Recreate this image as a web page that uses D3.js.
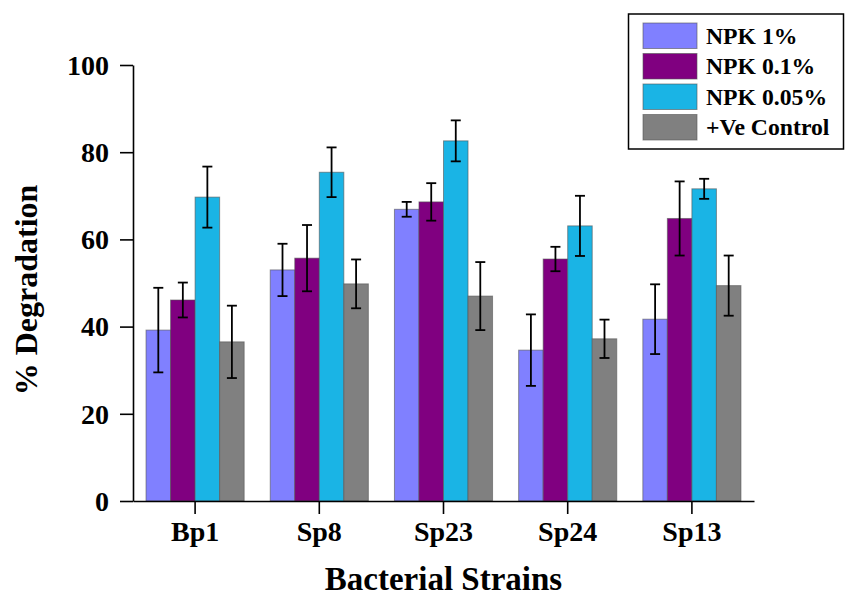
<!DOCTYPE html>
<html>
<head>
<meta charset="utf-8">
<script src="https://cdn.jsdelivr.net/npm/d3@7"></script>
<style>
  html, body { margin: 0; padding: 0; background: #fff; }
  svg text { font-family: "Liberation Serif", "Times New Roman", serif; font-weight: bold; fill: #000; }
</style>
</head>
<body>
<svg id="chart" width="845" height="597"></svg>
<script>
// ---- data ----
const strains = ["Bp1", "Sp8", "Sp23", "Sp24", "Sp13"];
const seriesNames = ["NPK 1%", "NPK 0.1%", "NPK 0.05%", "+Ve Control"];
const npk1      = [39.2, 53.0, 66.9, 34.6, 41.7];
const npk01     = [46.1, 55.7, 68.6, 55.5, 64.8];
const npk005    = [69.7, 75.4, 82.6, 63.1, 71.6];
const control   = [36.5, 49.8, 47.0, 37.2, 49.4];
const npk1Err   = [9.7, 6.0, 1.7, 8.2, 8.0];
const npk01Err  = [4.0, 7.6, 4.3, 2.8, 8.5];
const npk005Err = [7.0, 5.7, 4.7, 6.9, 2.3];
const controlErr= [8.3, 5.6, 7.8, 4.4, 6.9];
const yTicks = [0, 20, 40, 60, 80, 100];
const colors = ["#8080FF", "#800080", "#1AB4E5", "#808080"];

const values = [npk1, npk01, npk005, control];
const errors = [npk1Err, npk01Err, npk005Err, controlErr];

const rows = [];
strains.forEach((s, i) => {
  seriesNames.forEach((n, j) => {
    rows.push({ strain: s, series: n, idx: j, value: values[j][i], err: errors[j][i] });
  });
});

// ---- layout ----
const svg = d3.select("#chart");
const plotL = 133, plotR = 754, plotT = 65, plotB = 501;

const x = d3.scaleBand().domain(strains).range([plotL, plotR]).paddingInner(0.21).paddingOuter(0.105);
const xs = d3.scaleBand().domain(seriesNames).range([0, x.bandwidth()]).padding(0);
const y = d3.scaleLinear().domain([0, 100]).range([plotB, plotT]);

// bars
svg.append("g").selectAll("rect").data(rows).join("rect")
  .attr("x", d => x(d.strain) + xs(d.series))
  .attr("y", d => y(d.value))
  .attr("width", xs.bandwidth())
  .attr("height", d => y(0) - y(d.value))
  .attr("fill", d => colors[d.idx])
  .attr("stroke", "#555")
  .attr("stroke-opacity", 0.6)
  .attr("stroke-width", 1);

// error bars
const cap = 5;
const eg = svg.append("g").attr("stroke", "#000").attr("stroke-width", 1.8);
rows.forEach(d => {
  const cx = x(d.strain) + xs(d.series) + xs.bandwidth() / 2;
  const y1 = y(d.value + d.err), y2 = y(d.value - d.err);
  eg.append("line").attr("x1", cx).attr("x2", cx).attr("y1", y1).attr("y2", y2);
  eg.append("line").attr("x1", cx - cap).attr("x2", cx + cap).attr("y1", y1).attr("y2", y1);
  eg.append("line").attr("x1", cx - cap).attr("x2", cx + cap).attr("y1", y2).attr("y2", y2);
});

// y axis
const yAxis = d3.axisLeft(y).tickValues(yTicks).tickSizeInner(13).tickSizeOuter(0).tickPadding(11);
const gy = svg.append("g").attr("transform", `translate(${plotL},0)`).call(yAxis);
gy.select(".domain").attr("stroke", "#000").attr("stroke-width", 1.6);
gy.selectAll(".tick line").attr("stroke", "#000").attr("stroke-width", 1.6);
gy.selectAll(".tick text").attr("font-size", 28).attr("dy", "0.33em")
  .style("font-family", '"Liberation Serif", serif').style("font-weight", "bold").attr("fill", "#000");

// x axis
const xAxis = d3.axisBottom(x).tickSizeInner(13).tickSizeOuter(0).tickPadding(7);
const gx = svg.append("g").attr("transform", `translate(0,${plotB})`).call(xAxis);
gx.select(".domain").attr("stroke", "#000").attr("stroke-width", 1.6);
gx.selectAll(".tick line").attr("stroke", "#000").attr("stroke-width", 1.6);
gx.selectAll(".tick text").attr("font-size", 28)
  .style("font-family", '"Liberation Serif", serif').style("font-weight", "bold").attr("fill", "#000");

// titles
svg.append("text").attr("x", (plotL + plotR) / 2).attr("y", 590)
  .attr("text-anchor", "middle").attr("font-size", 33).text("Bacterial Strains");
svg.append("text").attr("transform", "translate(37,290) rotate(-90)")
  .attr("text-anchor", "middle").attr("font-size", 32).text("% Degradation");

// legend
const lg = svg.append("g");
lg.append("rect").attr("x", 628.5).attr("y", 14).attr("width", 215).attr("height", 135)
  .attr("fill", "#fff").attr("stroke", "#000").attr("stroke-width", 1.5);
seriesNames.forEach((n, j) => {
  const yy = 23 + j * 30.5;
  lg.append("rect").attr("x", 643).attr("y", yy).attr("width", 54).attr("height", 25.5)
    .attr("fill", colors[j]).attr("stroke", "#555").attr("stroke-opacity", 0.6).attr("stroke-width", 1);
  lg.append("text").attr("x", 706).attr("y", yy + 20.5).attr("font-size", 23.7).text(n);
});
</script>
</body>
</html>
